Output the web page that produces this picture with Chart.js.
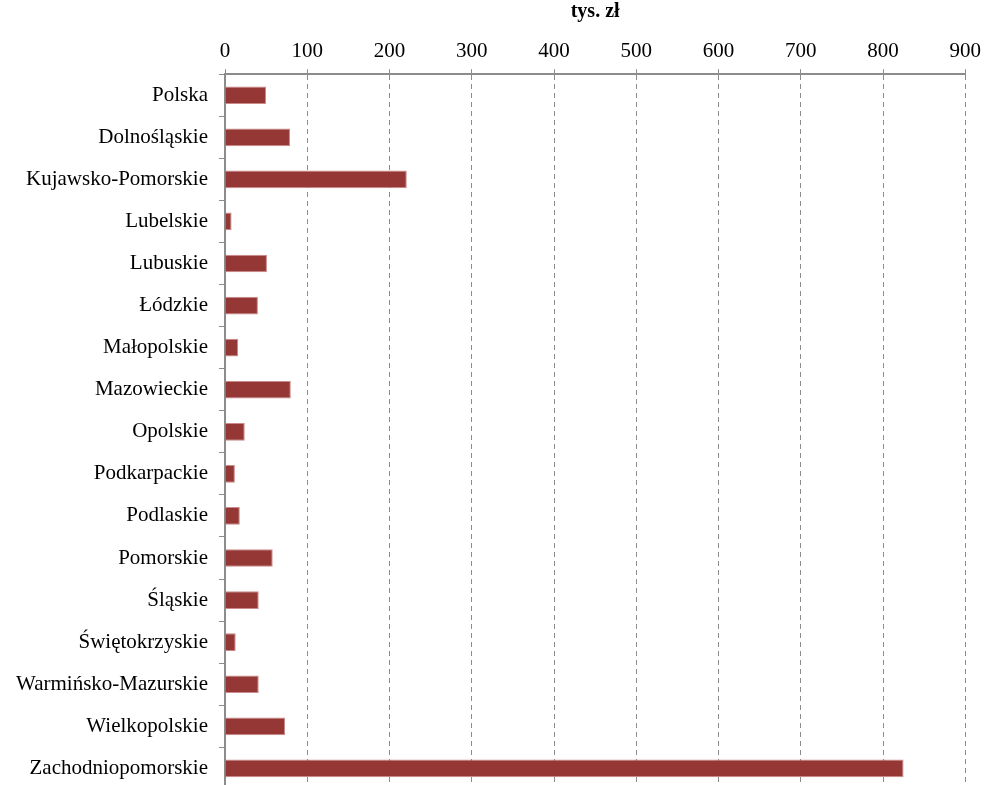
<!DOCTYPE html>
<html>
<head>
<meta charset="utf-8">
<script src="https://cdn.jsdelivr.net/npm/chart.js@4"></script>
<style>
  html, body { margin: 0; padding: 0; background: #fff; overflow: hidden; }
  #chart { display: block; width: 986px; height: 813px; }
</style>
</head>
<body>
<canvas id="chart" width="986" height="813"></canvas>
<script>
var regions = ['Polska', 'Dolnośląskie', 'Kujawsko-Pomorskie', 'Lubelskie', 'Lubuskie', 'Łódzkie',
    'Małopolskie', 'Mazowieckie', 'Opolskie', 'Podkarpackie', 'Podlaskie', 'Pomorskie', 'Śląskie',
    'Świętokrzyskie', 'Warmińsko-Mazurskie', 'Wielkopolskie', 'Zachodniopomorskie'];
var values = [50, 79, 221, 8, 51, 40, 16, 80, 24, 12, 18, 58, 41, 13, 41, 73, 825];
var axisTitle = 'tys. zł';

var ctx = document.getElementById('chart').getContext('2d');
var chart = new Chart(ctx, {
    type: 'bar',
    data: {
        labels: regions,
        datasets: [{
            data: values,
            backgroundColor: '#953735',
            borderColor: '#c98a89',
            borderWidth: { top: 1, bottom: 1, right: 1, left: 0 },
            borderSkipped: 'left',
            categoryPercentage: 1,
            barPercentage: 0.42
        }]
    },
    options: {
        indexAxis: 'y',
        responsive: false,
        animation: false,
        layout: { padding: { left: 0, right: 14, top: 0, bottom: 0 } },
        plugins: {
            legend: { display: false },
            tooltip: { enabled: false }
        },
        scales: {
            x: {
                position: 'top',
                min: 0,
                max: 900,
                ticks: {
                    stepSize: 100,
                    color: '#000',
                    padding: 5,
                    font: { family: 'Liberation Serif', size: 21 }
                },
                grid: {
                    color: '#8c8c8c',
                    lineWidth: 1,
                    tickLength: 5,
                    tickBorderDash: [],
                    drawTicks: true
                },
                border: { color: '#8c8c8c', width: 2, dash: [5, 4] },
                title: {
                    display: true,
                    text: axisTitle,
                    color: '#000',
                    padding: { top: 0, bottom: 10 },
                    font: { family: 'Liberation Serif', size: 20, weight: 'bold' }
                }
            },
            y: {
                ticks: {
                    color: '#000',
                    padding: 11,
                    font: { family: 'Liberation Serif', size: 21 }
                },
                grid: {
                    offset: true,
                    drawOnChartArea: false,
                    color: '#8c8c8c',
                    tickLength: 6
                },
                border: { color: '#8c8c8c', width: 2 },
                afterFit: function (scale) { scale.width = 225; }
            }
        }
    }
});
</script>
</body>
</html>
